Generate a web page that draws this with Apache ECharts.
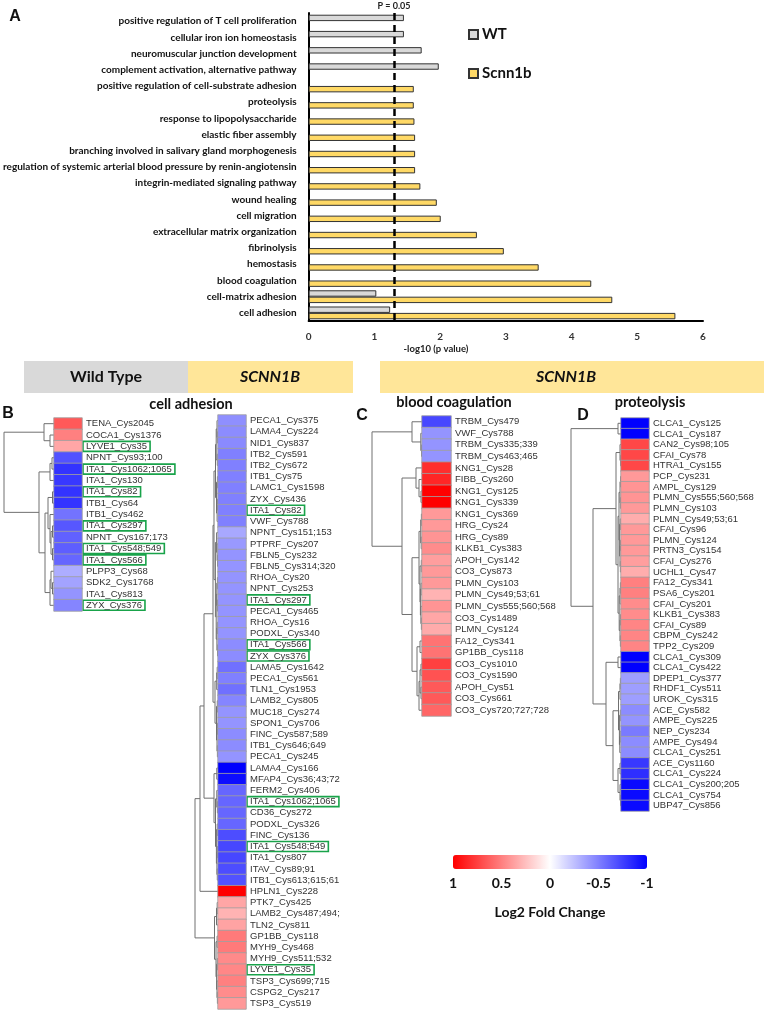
<!DOCTYPE html>
<html><head><meta charset="utf-8">
<script src="https://cdn.jsdelivr.net/npm/echarts@6/dist/echarts.min.js"></script>
<style>html,body{margin:0;padding:0;background:#fff}#c{width:764px;height:1014px}</style>
</head><body><div id="c"></div>
<script>
// ---------------- Panel A data ----------------
const goTerms = [
 'positive regulation of T cell proliferation',
 'cellular iron ion homeostasis',
 'neuromuscular junction development',
 'complement activation, alternative pathway',
 'positive regulation of cell-substrate adhesion',
 'proteolysis',
 'response to lipopolysaccharide',
 'elastic fiber assembly',
 'branching involved in salivary gland morphogenesis',
 'regulation of systemic arterial blood pressure by renin-angiotensin',
 'integrin-mediated signaling pathway',
 'wound healing',
 'cell migration',
 'extracellular matrix organization',
 'fibrinolysis',
 'hemostasis',
 'blood coagulation',
 'cell-matrix adhesion',
 'cell adhesion'];
const wtLogP  = [1.45,1.45,1.72,1.98,null,null,null,null,null,null,null,null,null,null,null,null,null,1.03,1.24];
const scnLogP = [null,null,null,null,1.60,1.60,1.61,1.62,1.62,1.62,1.70,1.95,2.01,2.56,2.97,3.50,4.30,4.62,5.58];
const xTicksA = [0,1,2,3,4,5,6];
const pCut = 0.05;

// ---------------- Panel B (Wild Type) ----------------
const bLeftLabels = ['TENA_Cys2045','COCA1_Cys1376','LYVE1_Cys35','NPNT_Cys93;100','ITA1_Cys1062;1065','ITA1_Cys130','ITA1_Cys82','ITB1_Cys64','ITB1_Cys462','ITA1_Cys297','NPNT_Cys167;173','ITA1_Cys548;549','ITA1_Cys566','PLPP3_Cys68','SDK2_Cys1768','ITA1_Cys813','ZYX_Cys376'];
const bLeftLfc = [0.65,0.5,0.35,-0.68,-0.8,-0.78,-0.8,-0.8,-0.55,-0.66,-0.62,-0.63,-0.6,-0.32,-0.36,-0.42,-0.48];
const bLeftBoxed = ['LYVE1_Cys35','ITA1_Cys1062;1065','ITA1_Cys82','ITA1_Cys297','ITA1_Cys548;549','ITA1_Cys566','ZYX_Cys376'];
const bLeftTree = [[0,[1,2,4],10],[[[3,4,2],5,4],[[[6,7,1.5],[8,[[9,10,1.5],[11,12,1.5],3],4],6],[[13,[14,15,1.5],3],16,4],9],15],50];

// ---------------- Panel B (SCNN1B) ----------------
const bRightLabels = ['PECA1_Cys375','LAMA4_Cys224','NID1_Cys837','ITB2_Cys591','ITB2_Cys672','ITB1_Cys75','LAMC1_Cys1598','ZYX_Cys436','ITA1_Cys82','VWF_Cys788','NPNT_Cys151;153','PTPRF_Cys207','FBLN5_Cys232','FBLN5_Cys314;320','RHOA_Cys20','NPNT_Cys253','ITA1_Cys297','PECA1_Cys465','RHOA_Cys16','PODXL_Cys340','ITA1_Cys566','ZYX_Cys376','LAMA5_Cys1642','PECA1_Cys561','TLN1_Cys1953','LAMB2_Cys805','MUC18_Cys274','SPON1_Cys706','FINC_Cys587;589','ITB1_Cys646;649','PECA1_Cys245','LAMA4_Cys166','MFAP4_Cys36;43;72','FERM2_Cys406','ITA1_Cys1062;1065','CD36_Cys272','PODXL_Cys326','FINC_Cys136','ITA1_Cys548;549','ITA1_Cys807','ITAV_Cys89;91','ITB1_Cys613;615;61','HPLN1_Cys228','PTK7_Cys425','LAMB2_Cys487;494;','TLN2_Cys811','GP1BB_Cys118','MYH9_Cys468','MYH9_Cys511;532','LYVE1_Cys35','TSP3_Cys699;715','CSPG2_Cys217','TSP3_Cys519'];
const bRightLfc = [-0.44,-0.45,-0.46,-0.5,-0.5,-0.5,-0.5,-0.5,-0.5,-0.5,-0.34,-0.4,-0.42,-0.42,-0.42,-0.42,-0.42,-0.42,-0.42,-0.42,-0.45,-0.45,-0.56,-0.5,-0.56,-0.48,-0.42,-0.42,-0.45,-0.45,-0.42,-1.0,-0.95,-0.6,-0.6,-0.6,-0.6,-0.7,-0.72,-0.72,-0.7,-0.68,1.0,0.35,0.3,0.36,0.52,0.52,0.46,0.47,0.5,0.45,0.4];
const bRightBoxed = ['ITA1_Cys82','ITA1_Cys297','ITA1_Cys566','ZYX_Cys376','ITA1_Cys1062;1065','ITA1_Cys548;549','LYVE1_Cys35'];
const bRightTree = [[[[[[[[0,[1,2,0.6],1],[3,4,0.7],1.8],[[5,6,0.6],[[7,8,0.5],9,0.9],1.5],2.5],[[10,[11,[12,13,0.5],0.9],1.4],[[[14,15,0.6],[16,17,0.6],1.2],[[18,19,0.7],[20,21,0.5],1.1],1.8],2.6],4],[[[22,23,0.8],24,1.3],[[25,26,0.7],[[27,28,0.5],[29,30,0.6],1],1.5],3],5],[[31,32,1.2],[[33,[34,35,0.6],1.2],[[36,37,0.8],[[38,39,0.6],[40,41,0.7],1.1],1.6],2.5],4],14],42,18],[[[43,44,0.8],45,1.5],[[46,47,0.9],[[48,49,0.7],[50,[51,52,0.6],1],1.4],2],3.5],23];

// ---------------- Panel C (blood coagulation) ----------------
const cLabels = ['TRBM_Cys479','VWF_Cys788','TRBM_Cys335;339','TRBM_Cys463;465','KNG1_Cys28','FIBB_Cys260','KNG1_Cys125','KNG1_Cys339','KNG1_Cys369','HRG_Cys24','HRG_Cys89','KLKB1_Cys383','APOH_Cys142','CO3_Cys873','PLMN_Cys103','PLMN_Cys49;53;61','PLMN_Cys555;560;568','CO3_Cys1489','PLMN_Cys124','FA12_Cys341','GP1BB_Cys118','CO3_Cys1010','CO3_Cys1590','APOH_Cys51','CO3_Cys661','CO3_Cys720;727;728'];
const cLfc = [-0.72,-0.42,-0.42,-0.42,0.82,0.85,1.0,1.0,0.4,0.4,0.42,0.45,0.38,0.4,0.4,0.3,0.42,0.35,0.33,0.55,0.55,0.75,0.68,0.65,0.65,0.6];
const cTree = [[0,[1,[2,3,0.5],1.2],10],[[4,[5,[6,7,1],3],6],[[[[8,9,0.6],[10,11,0.8],1.3],[[12,13,0.7],[[14,15,0.9],[16,[17,18,0.6],1.1],1.6],2],3],[[19,20,2],[[[21,22,1],[23,24,1],2],25,3],5],10],20],50];

// ---------------- Panel D (proteolysis) ----------------
const dLabels = ['CLCA1_Cys125','CLCA1_Cys187','CAN2_Cys98;105','CFAI_Cys78','HTRA1_Cys155','PCP_Cys231','AMPL_Cys129','PLMN_Cys555;560;568','PLMN_Cys103','PLMN_Cys49;53;61','CFAI_Cys96','PLMN_Cys124','PRTN3_Cys154','CFAI_Cys276','UCHL1_Cys47','FA12_Cys341','PSA6_Cys201','CFAI_Cys201','KLKB1_Cys383','CFAI_Cys89','CBPM_Cys242','TPP2_Cys209','CLCA1_Cys309','CLCA1_Cys422','DPEP1_Cys377','RHDF1_Cys511','UROK_Cys315','ACE_Cys582','AMPE_Cys225','NEP_Cys234','AMPE_Cys494','CLCA1_Cys251','ACE_Cys1160','CLCA1_Cys224','CLCA1_Cys200;205','CLCA1_Cys754','UBP47_Cys856'];
const dLfc = [-1,-1,0.72,0.72,0.72,0.4,0.42,0.42,0.4,0.32,0.4,0.4,0.4,0.38,0.32,0.5,0.5,0.45,0.45,0.48,0.48,0.48,-1,-1,-0.38,-0.38,-0.38,-0.45,-0.42,-0.52,-0.45,-0.45,-0.78,-0.82,-0.96,-0.96,-0.96];
const dTree = [[0,1,3],[[[2,[3,4,0.5],1],[[[[5,6,0.5],[7,8,0.6],1],[[9,10,0.7],[[11,12,0.5],[13,14,0.6],1],1.4],2],[[[15,16,0.6],17,1],[[18,19,0.5],[20,21,0.6],1],1.8],3],5],[[22,23,3],[[[[24,25,0.6],26,1],[[27,28,0.7],[[29,30,0.8],31,1.2],1.6],2.5],[[32,33,1],[34,[35,36,0.5],1],3],8],15],28],50];

// ---------------- Colour scale ----------------
const lfcTicks = [1,0.5,0,-0.5,-1];

// ================= build =================
const chart = echarts.init(document.getElementById('c'), null, {renderer:'canvas'});
const FONT_A = 'Lato';
const grid = [], xAxis = [], yAxis = [], series = [];

// Panel A
grid.push({left:307, top:13, width:396, height:308});
xAxis.push({type:'value', gridIndex:0, min:Math.min(...xTicksA), max:Math.max(...xTicksA), interval:1,
  axisLine:{show:true, lineStyle:{color:'#000', width:2}}, axisTick:{show:false}, splitLine:{show:false},
  axisLabel:{fontFamily:FONT_A, fontWeight:'bold', fontSize:10, color:'#333', margin:11}});
yAxis.push({type:'category', gridIndex:0, data:goTerms, inverse:true,
  axisLine:{show:true, lineStyle:{color:'#000', width:2}}, axisTick:{show:false},
  axisLabel:{fontFamily:FONT_A, fontWeight:'bold', fontSize:10, color:'#111', margin:12, interval:0}});
series.push({type:'bar', name:'WT', xAxisIndex:0, yAxisIndex:0, data:wtLogP, barWidth:6.4, barGap:'0%',
  itemStyle:{color:'#d9d9d9', borderColor:'#333', borderWidth:1}, animation:false,
  markLine:{silent:true, symbol:['none','none'], animation:false,
    lineStyle:{type:[7,5], width:2.5, color:'#000'},
    label:{show:true, position:'start', formatter:'P = ' + pCut, fontFamily:FONT_A, fontWeight:'bold', fontSize:9, color:'#222', distance:2},
    data:[{xAxis:-Math.log10(pCut)}]}});
series.push({type:'bar', name:'Scnn1b', xAxisIndex:0, yAxisIndex:0, data:scnLogP, barWidth:6.4, barGap:'0%',
  itemStyle:{color:'#ffd966', borderColor:'#333', borderWidth:1}, animation:false});

// Dendrogram helper
function layoutTree(node, segs) {
  if (typeof node === 'number') return [0, node];
  const a = layoutTree(node[0], segs), b = layoutTree(node[1], segs), h = node[2];
  segs.push({coords:[[a[0], a[1]], [h, a[1]], [h, b[1]], [b[0], b[1]]]});
  return [h, (a[1] + b[1]) / 2];
}

const panels = [
  {labels:bLeftLabels, values:bLeftLfc, tree:bLeftTree, boxed:bLeftBoxed, top:418, height:193, dLeft:4, cellLeft:54, cellW:28, hMax:50},
  {labels:bRightLabels, values:bRightLfc, tree:bRightTree, boxed:bRightBoxed, top:415, height:594, dLeft:195, cellLeft:218, cellW:28, hMax:23},
  {labels:cLabels, values:cLfc, tree:cTree, boxed:[], top:416, height:300, dLeft:372, cellLeft:422, cellW:29, hMax:50},
  {labels:dLabels, values:dLfc, tree:dTree, boxed:[], top:418, height:393, dLeft:571, cellLeft:621, cellW:28, hMax:50}
];
const heatIdx = [];
panels.forEach(p => {
  const n = p.labels.length;
  const gd = grid.length;
  grid.push({left:p.dLeft, top:p.top, width:p.cellLeft - p.dLeft, height:p.height});
  xAxis.push({type:'value', gridIndex:gd, min:0, max:p.hMax, inverse:true, show:false});
  yAxis.push({type:'value', gridIndex:gd, min:-0.5, max:n - 0.5, inverse:true, show:false});
  const segs = [];
  layoutTree(p.tree, segs);
  series.push({type:'lines', coordinateSystem:'cartesian2d', xAxisIndex:gd, yAxisIndex:gd, polyline:true,
    silent:true, animation:false, lineStyle:{color:'#707070', width:1, opacity:1}, data:segs});
  const gh = grid.length;
  grid.push({left:p.cellLeft, top:p.top, width:p.cellW, height:p.height});
  xAxis.push({type:'category', gridIndex:gh, data:['log2FC'], show:false});
  const boxed = new Set(p.boxed);
  yAxis.push({type:'category', gridIndex:gh, data:p.labels, inverse:true, position:'right',
    axisLine:{show:false}, axisTick:{show:false},
    axisLabel:{interval:0, margin:1, color:'#333', fontFamily:'Liberation Sans', fontSize:9.5,
      formatter: v => (boxed.has(v) ? '{b|' : '{n|') + v + '}',
      rich:{
        n:{padding:[0,3,0,3], fontFamily:'Liberation Sans', fontSize:9.5, color:'#333', lineHeight:10},
        b:{padding:[0,3,0,3], fontFamily:'Liberation Sans', fontSize:9.5, color:'#333', lineHeight:10,
           borderColor:'#19a34a', borderWidth:1.6}
      }}});
  heatIdx.push(series.length);
  series.push({type:'heatmap', xAxisIndex:gh, yAxisIndex:gh, animation:false, silent:true,
    data:p.values.map((v, i) => [0, i, v]),
    itemStyle:{borderColor:'#a0a0a0', borderWidth:0.8}});
});

// Colour-bar tick axis
const gc = grid.length;
grid.push({left:453, top:855, width:194, height:14});
xAxis.push({type:'value', gridIndex:gc, min:Math.min(...lfcTicks), max:Math.max(...lfcTicks), interval:0.5, inverse:true,
  axisLine:{show:false}, axisTick:{show:false}, splitLine:{show:false},
  axisLabel:{fontFamily:FONT_A, fontWeight:'bold', fontSize:14, color:'#111', margin:7}});
yAxis.push({type:'value', gridIndex:gc, show:false, min:0, max:1});
series.push({type:'scatter', xAxisIndex:gc, yAxisIndex:gc, data:[], silent:true});

function txt(text, x, y, font, align, fill) {
  return {type:'text', x:x, y:y, silent:true,
    style:{text:text, font:font, fill:fill || '#111', textAlign:align || 'center', textVerticalAlign:'middle'}};
}
function rect(x, y, w, h, fill) {
  return {type:'rect', silent:true, shape:{x:x, y:y, width:w, height:h}, style:{fill:fill}};
}

const option = {
  backgroundColor:'#fff',
  animation:false,
  grid: grid, xAxis: xAxis, yAxis: yAxis, series: series,
  legend:{data:['WT','Scnn1b'], orient:'vertical', left:468, top:27, padding:0, itemWidth:9, itemHeight:9, itemGap:24,
    icon:'rect', selectedMode:false,
    textStyle:{fontFamily:FONT_A, fontWeight:'bold', fontSize:15, color:'#111', padding:[0,0,0,-1]}},
  visualMap:{type:'continuous', min:-1, max:1, seriesIndex:heatIdx, orient:'horizontal', inverse:true,
    left:453, top:855, itemWidth:14, itemHeight:194, padding:0, calculable:false, text:['',''], showLabel:false,
    inRange:{color:['#0000ff','#ffffff','#ff0000']}},
  graphic:{elements:[
    txt('A', 15, 17, 'bold 16px Liberation Sans'),
    txt('-log10 (p value)', 436, 349, 'bold 9.5px Lato', 'center', '#222'),
    rect(24, 361, 164, 32, '#d9d9d9'),
    rect(188, 361, 165, 32, '#ffe699'),
    rect(380, 361, 384, 32, '#ffe699'),
    txt('Wild Type', 106, 377, 'bold 16px Lato'),
    txt('SCNN1B', 270, 377, 'italic bold 16px Lato'),
    txt('SCNN1B', 566, 377, 'italic bold 16px Lato'),
    txt('cell adhesion', 191, 404, 'bold 14.5px Lato'),
    txt('blood coagulation', 454, 402, 'bold 14.5px Lato'),
    txt('proteolysis', 650, 402, 'bold 14.5px Lato'),
    txt('B', 8, 414, 'bold 16px Liberation Sans'),
    txt('C', 362, 416, 'bold 16px Liberation Sans'),
    txt('D', 583, 416, 'bold 16px Liberation Sans'),
    txt('Log2 Fold Change', 550, 912, 'bold 14px Lato')
  ]}
};
chart.setOption(option);
</script></body></html>
